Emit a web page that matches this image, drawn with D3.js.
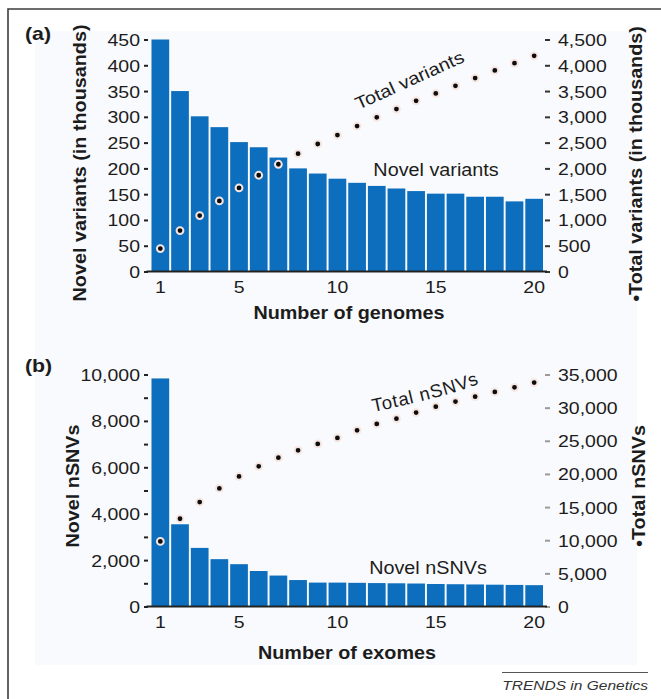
<!DOCTYPE html>
<html>
<head>
<meta charset="utf-8">
<style>
    body { margin: 0; background: #ffffff; }
    svg { display: block; font-family: "Liberation Sans", Arial, Helvetica, sans-serif; }
</style>
<script src="https://cdn.jsdelivr.net/npm/d3@7"></script>
</head>
<body>
<svg id="chart"></svg>
<script>
// ---- data ----
let counts = [1, 2, 3, 4, 5, 6, 7, 8, 9, 10, 11, 12, 13, 14, 15, 16, 17, 18, 19, 20]
let xTickLabels = [1, 5, 10, 15, 20]

// (a) genomes, values in thousands
let novelVariants = [450, 350, 301, 280, 251, 241, 221, 200, 190, 180, 172, 166, 161, 156, 151, 151, 145, 145, 136, 141]
let totalVariants = [445, 794, 1084, 1369, 1621, 1867, 2080, 2285, 2473, 2647, 2821, 2990, 3151, 3311, 3455, 3602, 3751, 3900, 4041, 4183]
let novelTicksA = [0, 50, 100, 150, 200, 250, 300, 350, 400, 450]
let totalTicksA = [0, 500, 1000, 1500, 2000, 2500, 3000, 3500, 4000, 4500]

// (b) exomes
let novelNSNVs = [9830, 3545, 2526, 2040, 1824, 1530, 1334, 1140, 1030, 1030, 1020, 1010, 1000, 990, 970, 960, 950, 940, 930, 920]
let totalNSNVs = [9814, 13240, 15760, 17820, 19630, 21140, 22450, 23560, 24520, 25430, 26580, 27540, 28340, 29250, 30150, 30910, 31660, 32370, 33070, 33780]
let novelTicksB = [0, 1000, 2000, 3000, 4000, 5000, 6000, 7000, 8000, 9000, 10000]
let totalTicksB = [0, 5000, 10000, 15000, 20000, 25000, 30000, 35000]

let width = 661, height = 699
let blue = "#0c6ebc"
let ink = "#1c1c1c"
let fmt = d3.format(",")

let svg = d3.select("#chart").attr("width", width).attr("height", height)

// stretch text along its own direction (the figure's type is wide)
function stretch(sel, k) {
    sel.each(function () {
        let w = this.getComputedTextLength()
        d3.select(this).attr("textLength", w * k).attr("lengthAdjust", "spacingAndGlyphs")
    })
}

// frame and light background
svg.append("rect").attr("x", 35).attr("y", 31).attr("width", 602).attr("height", 634).attr("fill", "#f9fafd")
svg.append("path").attr("d", "M8,699V9H661").attr("fill", "none").attr("stroke", "#3c3c3c").attr("stroke-width", 1.6)

let xScale = d3.scaleBand()
    .domain(counts)
    .range([150.5, 544])
    .paddingInner(0.1)
    .paddingOuter(0.05)

function panel(cfg) {
    let { top, bottom, novel, total, leftMax, rightMax, leftTicks, leftLabelEvery, rightTicks, rightTickColor } = cfg
    let yLeft = d3.scaleLinear().domain([0, leftMax]).range([bottom, top])
    let yRight = d3.scaleLinear().domain([0, rightMax]).range([bottom, top])
    let g = svg.append("g")

    g.selectAll(".bar")
        .data(counts)
        .enter().append("rect")
        .attr("x", d => xScale(d))
        .attr("width", xScale.bandwidth())
        .attr("y", (d, i) => yLeft(novel[i]))
        .attr("height", (d, i) => bottom - yLeft(novel[i]))
        .attr("fill", blue)

    g.selectAll(".dot")
        .data(counts)
        .enter().append("circle")
        .attr("cx", d => xScale(d) + xScale.bandwidth() / 2)
        .attr("cy", (d, i) => yRight(total[i]))
        .attr("r", 3.4)
        .attr("fill", "#0d0d0d")
        .attr("stroke", "#f6e6e2")
        .attr("stroke-width", 2)

    // left axis (dashes only, no spine)
    let axL = g.append("g")
        .attr("transform", `translate(148,0)`)
        .call(d3.axisLeft(yLeft).tickValues(leftTicks).tickSize(4).tickPadding(4)
            .tickFormat(d => (leftLabelEvery && (d / leftLabelEvery) % 1 !== 0) ? "" : fmt(d)))
    axL.select(".domain").remove()
    axL.selectAll("line").attr("stroke", "#222").attr("stroke-width", 2)
    axL.selectAll("text").attr("font-size", 16.5).attr("fill", ink).attr("dy", "0.36em")
    stretch(axL.selectAll("text").filter(function () { return this.textContent !== "" }), 1.18)

    // right axis
    let axR = g.append("g")
        .attr("transform", `translate(545,0)`)
        .call(d3.axisRight(yRight).tickValues(rightTicks).tickSize(5).tickPadding(8).tickFormat(fmt))
    axR.select(".domain").remove()
    axR.selectAll("line").attr("stroke", rightTickColor).attr("stroke-width", 2)
    axR.selectAll("text").attr("font-size", 16.5).attr("fill", ink).attr("dy", "0.36em")
    stretch(axR.selectAll("text"), 1.18)

    // bottom axis
    let axB = g.append("g")
        .attr("transform", `translate(0,${bottom})`)
        .call(d3.axisBottom(xScale).tickValues(xTickLabels).tickSize(0).tickPadding(10))
    axB.select(".domain").remove()
    axB.selectAll("text").attr("font-size", 16.5).attr("fill", ink)
    stretch(axB.selectAll("text"), 1.18)
    g.append("line")
        .attr("x1", xScale.range()[0] - 4).attr("x2", xScale.range()[1] + 3)
        .attr("y1", bottom).attr("y2", bottom)
        .attr("stroke", "#222").attr("stroke-width", 2.2)

    return g
}

function label(text, x, y, opts) {
    let o = Object.assign({ size: 17.5, weight: "normal", anchor: "middle", rotate: 0, k: 1.13, italic: false, fill: ink }, opts || {})
    let t = svg.append("text")
        .attr("transform", `translate(${x},${y}) rotate(${o.rotate})`)
        .attr("text-anchor", o.anchor)
        .attr("font-size", o.size)
        .attr("font-weight", o.weight)
        .attr("font-style", o.italic ? "italic" : "normal")
        .attr("fill", o.fill)
        .text(text)
    stretch(t, o.k)
    return t
}

// ---- panel (a) ----
panel({
    top: 39.5, bottom: 271.5,
    novel: novelVariants, total: totalVariants,
    leftMax: 450, rightMax: 4500,
    leftTicks: novelTicksA, leftLabelEvery: 0,
    rightTicks: totalTicksA, rightTickColor: "#333"
})
label("(a)", 25, 39.5, { size: 18.5, weight: "bold", anchor: "start", k: 1.15 })
label("Novel variants (in thousands)", 85.5, 163, { weight: "bold", rotate: -90 })
label("\u2022Total variants (in thousands)", 642, 164, { weight: "bold", rotate: -90 })
label("Number of genomes", 349, 319, { weight: "bold" })
label("Novel variants", 436, 176)
label("Total variants", 358.5, 110, { anchor: "start", rotate: -24.5, k: 1.14 })

// ---- panel (b) ----
panel({
    top: 374.5, bottom: 606.5,
    novel: novelNSNVs, total: totalNSNVs,
    leftMax: 10000, rightMax: 35000,
    leftTicks: novelTicksB, leftLabelEvery: 2000,
    rightTicks: totalTicksB, rightTickColor: "#9a9a9a"
})
label("(b)", 25, 372, { size: 18.5, weight: "bold", anchor: "start", k: 1.15 })
label("Novel nSNVs", 79, 486, { weight: "bold", rotate: -90 })
label("\u2022Total nSNVs", 645, 486, { weight: "bold", rotate: -90 })
label("Number of exomes", 347, 659, { weight: "bold" })
label("Novel nSNVs", 428, 574)

// curved "Total nSNVs" following the dots
svg.append("path").attr("id", "arcB").attr("d", "M373,412 Q460,394 487,380").attr("fill", "none")
svg.append("text")
    .attr("font-size", 18.5)
    .attr("letter-spacing", 0.8)
    .attr("fill", ink)
    .append("textPath")
    .attr("href", "#arcB")
    .text("Total nSNVs")

// source credit
svg.append("line").attr("x1", 502).attr("x2", 648).attr("y1", 672.5).attr("y2", 672.5)
    .attr("stroke", "#555").attr("stroke-width", 1)
label("TRENDS in Genetics", 648, 690, { size: 13.5, anchor: "end", italic: true, k: 1.15, fill: "#333" })
</script>
</body>
</html>
